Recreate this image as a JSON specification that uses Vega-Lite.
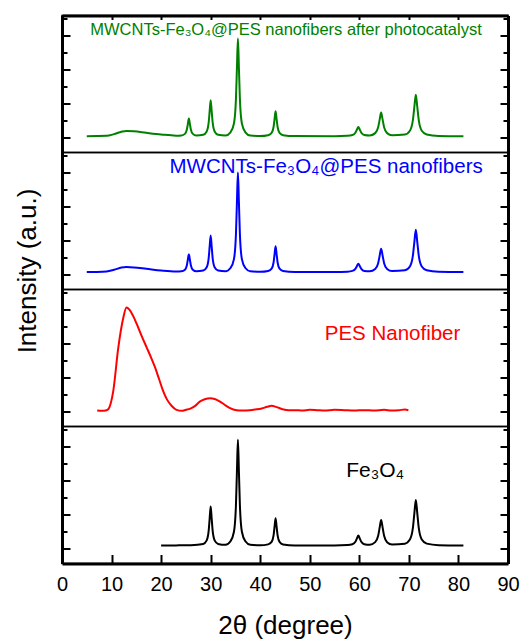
{
  "$schema": "https://vega.github.io/schema/vega-lite/v6.json",
  "padding": {"left": 13, "top": 13.5, "right": 4, "bottom": 2},
  "spacing": 0,
  "bounds": "flush",
  "config": {
    "font": "Liberation Sans",
    "view": {"stroke": "black", "strokeWidth": 1.5},
    "axis": {"grid": false, "domainColor": "black", "domainWidth": 3, "tickColor": "black", "tickWidth": 2, "labelColor": "black", "titleColor": "black", "titleFontWeight": "normal"},
    "line": {"strokeWidth": 2, "interpolate": "monotone"}
  },
  "datasets": {
    "green": [
      {"x":5,"y":4},{"x":7,"y":4.3},{"x":9,"y":5},{"x":10.5,"y":10},{"x":12,"y":17},{"x":13,"y":19.5},{"x":14.5,"y":18.5},{"x":17,"y":14},{"x":20,"y":9},{"x":23,"y":5.5},
      {"x":24.1,"y":6.1},{"x":24.8,"y":10.8},{"x":25.2,"y":23.8},{"x":25.4,"y":40.4},{"x":25.6,"y":56},{"x":25.8,"y":40.4},{"x":26.0,"y":23.8},{"x":26.4,"y":10.8},{"x":27.1,"y":6.1},
      {"x":28.5,"y":8.2},{"x":29.2,"y":17.8},{"x":29.6,"y":44.3},{"x":29.8,"y":78.2},{"x":30.0,"y":110},{"x":30.2,"y":78.2},{"x":30.4,"y":44.3},{"x":30.8,"y":17.8},{"x":31.5,"y":8.2},
      {"x":33,"y":6},{"x":34.0,"y":15.5},{"x":34.7,"y":41.3},{"x":35.1,"y":113},{"x":35.3,"y":205},{"x":35.5,"y":291},{"x":35.7,"y":205},{"x":35.9,"y":113},{"x":36.3,"y":41.3},{"x":37.0,"y":15.5},{"x":38,"y":6},
      {"x":40,"y":4.5},{"x":41.6,"y":6.9},{"x":42.3,"y":13.5},{"x":42.7,"y":31.7},{"x":42.9,"y":55.1},{"x":43.1,"y":77},{"x":43.3,"y":55.1},{"x":43.5,"y":31.7},{"x":43.9,"y":13.5},{"x":44.6,"y":6.9},
      {"x":47,"y":4.3},{"x":55,"y":4},{"x":57.6,"y":5.1},{"x":58.6,"y":7.5},{"x":59.2,"y":14.3},{"x":59.5,"y":22.9},{"x":59.8,"y":31},{"x":60.1,"y":22.9},{"x":60.4,"y":14.3},{"x":61.0,"y":7.5},
      {"x":62.1,"y":6},{"x":63.2,"y":13},{"x":63.8,"y":30.4},{"x":64.1,"y":52.7},{"x":64.4,"y":73.5},{"x":64.7,"y":52.7},{"x":65.0,"y":30.4},{"x":65.6,"y":13},{"x":66.6,"y":6.8},
      {"x":69.2,"y":8.9},{"x":70.2,"y":19.9},{"x":70.8,"y":50.4},{"x":71.1,"y":89.4},{"x":71.4,"y":126},{"x":71.7,"y":89.4},{"x":72.0,"y":50.4},{"x":72.6,"y":19.9},{"x":73.6,"y":8.9},{"x":76,"y":4.8},{"x":81,"y":4}
    ],
    "blue": [
      {"x":5,"y":7.5},{"x":7,"y":7.8},{"x":9,"y":9},{"x":10.5,"y":14},{"x":12,"y":20.5},{"x":13,"y":22},{"x":14.5,"y":21},{"x":17,"y":17},{"x":20,"y":12},{"x":23,"y":9},
      {"x":24.1,"y":9.6},{"x":24.8,"y":14.3},{"x":25.2,"y":27.5},{"x":25.4,"y":44.3},{"x":25.6,"y":60},{"x":25.8,"y":44.3},{"x":26.0,"y":27.5},{"x":26.4,"y":14.3},{"x":27.1,"y":9.6},
      {"x":28.5,"y":11.8},{"x":29.2,"y":21.5},{"x":29.6,"y":48.4},{"x":29.8,"y":82.8},{"x":30.0,"y":115},{"x":30.2,"y":82.8},{"x":30.4,"y":48.4},{"x":30.8,"y":21.5},{"x":31.5,"y":11.8},
      {"x":33,"y":9.5},{"x":34.0,"y":19.2},{"x":34.7,"y":45.5},{"x":35.1,"y":118.7},{"x":35.3,"y":212.3},{"x":35.5,"y":300},{"x":35.7,"y":212.3},{"x":35.9,"y":118.7},{"x":36.3,"y":45.5},{"x":37.0,"y":19.2},{"x":38,"y":9.5},
      {"x":40,"y":8},{"x":41.6,"y":10.5},{"x":42.3,"y":17.3},{"x":42.7,"y":36.2},{"x":42.9,"y":60.4},{"x":43.1,"y":83},{"x":43.3,"y":60.4},{"x":43.5,"y":36.2},{"x":43.9,"y":17.3},{"x":44.6,"y":10.5},
      {"x":47,"y":7.8},{"x":55,"y":7.5},{"x":57.6,"y":8.5},{"x":58.6,"y":10.7},{"x":59.2,"y":16.8},{"x":59.5,"y":24.7},{"x":59.8,"y":32},{"x":60.1,"y":24.7},{"x":60.4,"y":16.8},{"x":61.0,"y":10.7},
      {"x":62.1,"y":9.5},{"x":63.2,"y":16.4},{"x":63.8,"y":33.5},{"x":64.1,"y":55.5},{"x":64.4,"y":76},{"x":64.7,"y":55.5},{"x":65.0,"y":33.5},{"x":65.6,"y":16.4},{"x":66.6,"y":10.2},
      {"x":69.2,"y":12.5},{"x":70.2,"y":23.7},{"x":70.8,"y":54.8},{"x":71.1,"y":94.7},{"x":71.4,"y":132},{"x":71.7,"y":94.7},{"x":72.0,"y":54.8},{"x":72.6,"y":23.7},{"x":73.6,"y":12.5},{"x":76,"y":8.3},{"x":81,"y":7.5}
    ],
    "red": [
      {"x":7.1,"y":3},{"x":8.0,"y":2},{"x":9.0,"y":4},{"x":9.4,"y":8},{"x":10.35,"y":61},{"x":11.36,"y":188},{"x":12.37,"y":276},{"x":13.0,"y":306},{"x":13.6,"y":300},{"x":14.4,"y":280},
      {"x":15.1,"y":257},{"x":16.0,"y":225},{"x":17.1,"y":188},{"x":18.0,"y":158},{"x":18.8,"y":129},{"x":19.6,"y":95},{"x":20.4,"y":61},{"x":21.2,"y":35},{"x":22.1,"y":17},{"x":23.1,"y":5},
      {"x":24.2,"y":2},{"x":25.0,"y":5},{"x":25.8,"y":8},{"x":26.8,"y":16},{"x":27.8,"y":29},{"x":28.8,"y":36},{"x":29.9,"y":39},{"x":30.8,"y":37},{"x":31.8,"y":30},{"x":32.8,"y":20},
      {"x":33.8,"y":11},{"x":35.2,"y":4},{"x":36.5,"y":3},{"x":37.9,"y":4},{"x":39,"y":6},{"x":40.3,"y":9},{"x":41.4,"y":14},{"x":42.3,"y":17},{"x":43.3,"y":13},{"x":44.5,"y":7},
      {"x":45.8,"y":4},{"x":47,"y":4},{"x":48.5,"y":3},{"x":50,"y":5},{"x":51.5,"y":4},{"x":53,"y":3},{"x":55,"y":5},{"x":57,"y":4},{"x":59,"y":3},{"x":61,"y":4},
      {"x":63,"y":3},{"x":65,"y":5},{"x":66.5,"y":3},{"x":68,"y":4},{"x":69.2,"y":6},{"x":69.9,"y":4}
    ],
    "black": [
      {"x":20,"y":9},{"x":23,"y":9.3},{"x":26,"y":10},
      {"x":28.5,"y":13.6},{"x":29.2,"y":23.9},{"x":29.6,"y":52.5},{"x":29.8,"y":89.2},{"x":30.0,"y":123.5},{"x":30.2,"y":89.2},{"x":30.4,"y":52.5},{"x":30.8,"y":23.9},{"x":31.5,"y":13.6},
      {"x":33,"y":11},{"x":34.0,"y":21.4},{"x":34.7,"y":49.4},{"x":35.1,"y":127.2},{"x":35.3,"y":226.7},{"x":35.5,"y":320},{"x":35.7,"y":226.7},{"x":35.9,"y":127.2},{"x":36.3,"y":49.4},{"x":37.0,"y":21.4},{"x":38,"y":11},
      {"x":40,"y":9.5},{"x":41.6,"y":12.2},{"x":42.3,"y":19.4},{"x":42.7,"y":39.4},{"x":42.9,"y":65},{"x":43.1,"y":89},{"x":43.3,"y":65},{"x":43.5,"y":39.4},{"x":43.9,"y":19.4},{"x":44.6,"y":12.2},
      {"x":47,"y":9.3},{"x":55,"y":9},{"x":57.6,"y":10.2},{"x":58.6,"y":12.8},{"x":59.2,"y":20},{"x":59.5,"y":29.3},{"x":59.8,"y":38},{"x":60.1,"y":29.3},{"x":60.4,"y":20},{"x":61.0,"y":12.8},
      {"x":62.1,"y":11},{"x":63.2,"y":18.8},{"x":63.8,"y":37.5},{"x":64.1,"y":61.5},{"x":64.4,"y":84},{"x":64.7,"y":61.5},{"x":65.0,"y":37.5},{"x":65.6,"y":18.8},{"x":66.6,"y":12},
      {"x":69.2,"y":14.4},{"x":70.2,"y":26.4},{"x":70.8,"y":59.9},{"x":71.1,"y":102.8},{"x":71.4,"y":143},{"x":71.7,"y":102.8},{"x":72.0,"y":59.9},{"x":72.6,"y":26.4},{"x":73.6,"y":14.4},{"x":76,"y":9.8},{"x":81,"y":9}
    ]
  },
  "vconcat": [
    {
      "width": 446, "height": 137,
      "layer": [
        {
          "data": {"name": "green"},
          "mark": {"type": "line", "color": "#008000"},
          "encoding": {
            "x": {"field": "x", "type": "quantitative", "scale": {"domain": [0, 90], "nice": false},
                  "axis": {"orient": "top", "values": [0,5,10,15,20,25,30,35,40,45,50,55,60,65,70,75,80,85,90], "labels": false, "title": null,
                           "tickSize": {"condition": {"test": "datum.value % 10 === 0", "value": -4}, "value": -3}}},
            "y": {"field": "y", "type": "quantitative", "scale": {"domain": [-44, 359], "nice": false, "zero": false},
                  "axis": {"orient": "left", "values": [0,50,100,150,200,250,300,350], "labels": false, "title": null,
                           "tickSize": {"condition": {"test": "datum.value % 100 === 0", "value": -8}, "value": -5}}}
          }
        },
        {
          "data": {"values": [{}]},
          "mark": {"type": "text", "text": "MWCNTs-Fe₃O₄@PES nanofibers after photocatalyst", "color": "#008000", "fontSize": 16.5, "align": "center", "baseline": "middle"},
          "encoding": {
            "x": {"datum": 45.2, "type": "quantitative"},
            "y": {"datum": 316, "type": "quantitative", "scale": {"domain": [-44, 359], "nice": false, "zero": false},
                  "axis": {"orient": "right", "values": [0,50,100,150,200,250,300,350], "labels": false, "title": null,
                           "tickSize": {"condition": {"test": "datum.value % 100 === 0", "value": -8}, "value": -5}}}
          }
        }
      ],
      "resolve": {"scale": {"y": "independent"}}
    },
    {
      "width": 446, "height": 137,
      "layer": [
        {
          "data": {"name": "blue"},
          "mark": {"type": "line", "color": "#0000FF"},
          "encoding": {
            "x": {"field": "x", "type": "quantitative", "scale": {"domain": [0, 90], "nice": false}, "axis": null},
            "y": {"field": "y", "type": "quantitative", "scale": {"domain": [-44, 359], "nice": false, "zero": false},
                  "axis": {"orient": "left", "values": [0,50,100,150,200,250,300,350], "labels": false, "title": "Intensity (a.u.)",
                           "titleFontSize": 26, "titleY": 118, "titlePadding": 21,
                           "tickSize": {"condition": {"test": "datum.value % 100 === 0", "value": -8}, "value": -5}}}
          }
        },
        {
          "data": {"values": [{}]},
          "mark": {"type": "text", "text": "MWCNTs-Fe₃O₄@PES nanofibers", "color": "#0000FF", "fontSize": 20.5, "align": "center", "baseline": "middle"},
          "encoding": {
            "x": {"datum": 53.3, "type": "quantitative"},
            "y": {"datum": 316, "type": "quantitative", "scale": {"domain": [-44, 359], "nice": false, "zero": false},
                  "axis": {"orient": "right", "values": [0,50,100,150,200,250,300,350], "labels": false, "title": null,
                           "tickSize": {"condition": {"test": "datum.value % 100 === 0", "value": -8}, "value": -5}}}
          }
        }
      ],
      "resolve": {"scale": {"y": "independent"}}
    },
    {
      "width": 446, "height": 137,
      "layer": [
        {
          "data": {"name": "red"},
          "mark": {"type": "line", "color": "#FF0000"},
          "encoding": {
            "x": {"field": "x", "type": "quantitative", "scale": {"domain": [0, 90], "nice": false}, "axis": null},
            "y": {"field": "y", "type": "quantitative", "scale": {"domain": [-44, 359], "nice": false, "zero": false},
                  "axis": {"orient": "left", "values": [0,50,100,150,200,250,300,350], "labels": false, "title": null,
                           "tickSize": {"condition": {"test": "datum.value % 100 === 0", "value": -8}, "value": -5}}}
          }
        },
        {
          "data": {"values": [{}]},
          "mark": {"type": "text", "text": "PES Nanofiber", "color": "#FF0000", "fontSize": 20.5, "align": "center", "baseline": "middle"},
          "encoding": {
            "x": {"datum": 66.7, "type": "quantitative"},
            "y": {"datum": 228, "type": "quantitative", "scale": {"domain": [-44, 359], "nice": false, "zero": false},
                  "axis": {"orient": "right", "values": [0,50,100,150,200,250,300,350], "labels": false, "title": null,
                           "tickSize": {"condition": {"test": "datum.value % 100 === 0", "value": -8}, "value": -5}}}
          }
        }
      ],
      "resolve": {"scale": {"y": "independent"}}
    },
    {
      "width": 446, "height": 137,
      "layer": [
        {
          "data": {"name": "black"},
          "mark": {"type": "line", "color": "#000000"},
          "encoding": {
            "x": {"field": "x", "type": "quantitative", "scale": {"domain": [0, 90], "nice": false},
                  "axis": {"orient": "bottom", "values": [0,5,10,15,20,25,30,35,40,45,50,55,60,65,70,75,80,85,90],
                           "labelExpr": "datum.value % 10 === 0 ? datum.label : ''", "labelFontSize": 20, "labelPadding": 20, "labelFlush": false,
                           "title": "2θ (degree)", "titleFontSize": 26, "titlePadding": 18,
                           "tickSize": {"condition": {"test": "datum.value % 10 === 0", "value": -9}, "value": -4.5}}},
            "y": {"field": "y", "type": "quantitative", "scale": {"domain": [-44, 359], "nice": false, "zero": false},
                  "axis": {"orient": "left", "values": [0,50,100,150,200,250,300,350], "labels": false, "title": null,
                           "tickSize": {"condition": {"test": "datum.value % 100 === 0", "value": -8}, "value": -5}}}
          }
        },
        {
          "data": {"values": [{}]},
          "mark": {"type": "text", "text": "Fe₃O₄", "color": "#000000", "fontSize": 21, "align": "center", "baseline": "middle"},
          "encoding": {
            "x": {"datum": 63.2, "type": "quantitative"},
            "y": {"datum": 229, "type": "quantitative", "scale": {"domain": [-44, 359], "nice": false, "zero": false},
                  "axis": {"orient": "right", "values": [0,50,100,150,200,250,300,350], "labels": false, "title": null,
                           "tickSize": {"condition": {"test": "datum.value % 100 === 0", "value": -8}, "value": -5}}}
          }
        }
      ],
      "resolve": {"scale": {"y": "independent"}}
    }
  ]
}
